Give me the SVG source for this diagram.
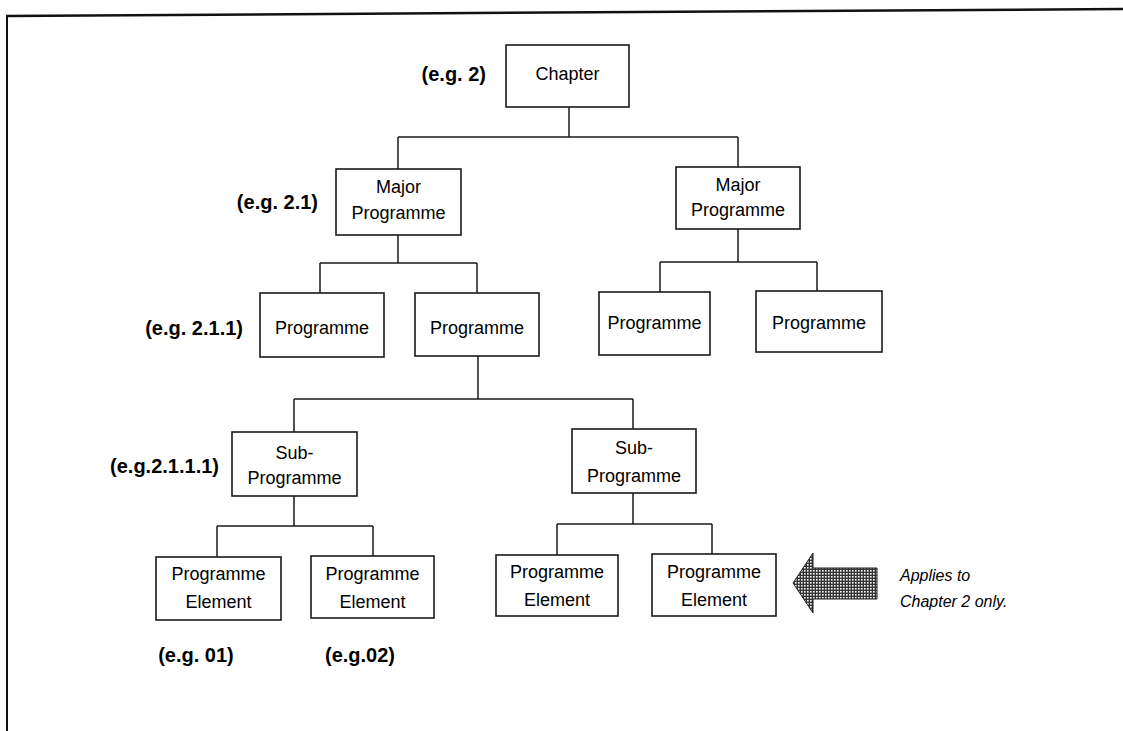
<svg xmlns="http://www.w3.org/2000/svg" width="1123" height="731" viewBox="0 0 1123 731">
<style>
.box{fill:#fff;stroke:#1a1a1a;stroke-width:1.6}
.t{font-family:"Liberation Sans",Arial,sans-serif;font-size:18px;fill:#000;text-anchor:middle}
.lb{font-family:"Liberation Sans",Arial,sans-serif;font-size:20px;font-weight:bold;fill:#000}
.it{font-family:"Liberation Sans",Arial,sans-serif;font-size:16px;font-style:italic;fill:#000}
.c{fill:none;stroke:#1a1a1a;stroke-width:1.5}
</style>
<defs>
<pattern id="dots" width="3" height="3" patternUnits="userSpaceOnUse">
<rect width="3" height="3" fill="#333"/>
<rect x="0" y="0" width="1.6" height="1.6" fill="#fff"/>
</pattern>
</defs>
<rect width="1123" height="731" fill="#fff"/>
<g id="frame">
<path d="M6 16 L1123 9" stroke="#111" stroke-width="2.5" fill="none"/>
<path d="M7 16 L7 731" stroke="#111" stroke-width="2" fill="none"/>
</g>
<g id="connectors">
<path class="c" d="M569 107 V137 M398 137 H738 M398 137 V169 M738 137 V167"/>
<path class="c" d="M398 235 V263 M320 263 H477 M320 263 V293 M477 263 V293"/>
<path class="c" d="M738 229 V262 M660 262 H817 M660 262 V292 M817 262 V291"/>
<path class="c" d="M478 356 V399 M294 399 H633 M294 399 V432 M633 399 V429"/>
<path class="c" d="M294 496 V526 M217 526 H373 M217 526 V557 M373 526 V556"/>
<path class="c" d="M633 493 V524 M557 524 H712 M557 524 V555 M712 524 V554"/>
</g>
<g id="chapter">
<rect class="box" x="506" y="45" width="123" height="62"/>
<text class="t" x="567.5" y="80">Chapter</text>
</g>
<g id="lbl-chapter"><text class="lb" x="486" y="81" text-anchor="end">(e.g. 2)</text></g>
<g id="major1">
<rect class="box" x="336" y="169" width="125" height="66"/>
<text class="t" x="398.5" y="193">Major</text>
<text class="t" x="398.5" y="219">Programme</text>
</g>
<g id="lbl-major"><text class="lb" x="318" y="209" text-anchor="end">(e.g. 2.1)</text></g>
<g id="major2">
<rect class="box" x="676" y="167" width="124" height="62"/>
<text class="t" x="738" y="191">Major</text>
<text class="t" x="738" y="216">Programme</text>
</g>
<g id="prog1">
<rect class="box" x="260" y="293" width="124" height="64"/>
<text class="t" x="322" y="334">Programme</text>
</g>
<g id="lbl-prog"><text class="lb" x="243" y="335" text-anchor="end">(e.g. 2.1.1)</text></g>
<g id="prog2">
<rect class="box" x="415" y="293" width="124" height="63"/>
<text class="t" x="477" y="334">Programme</text>
</g>
<g id="prog3">
<rect class="box" x="599" y="292" width="111" height="63"/>
<text class="t" x="654.5" y="329">Programme</text>
</g>
<g id="prog4">
<rect class="box" x="756" y="291" width="126" height="61"/>
<text class="t" x="819" y="329">Programme</text>
</g>
<g id="sub1">
<rect class="box" x="232" y="432" width="125" height="64"/>
<text class="t" x="294.5" y="459">Sub-</text>
<text class="t" x="294.5" y="484">Programme</text>
</g>
<g id="lbl-sub"><text class="lb" x="219" y="473" text-anchor="end">(e.g.2.1.1.1)</text></g>
<g id="sub2">
<rect class="box" x="572" y="429" width="124" height="64"/>
<text class="t" x="634" y="454">Sub-</text>
<text class="t" x="634" y="482">Programme</text>
</g>
<g id="el1">
<rect class="box" x="156" y="557" width="125" height="63"/>
<text class="t" x="218.5" y="580">Programme</text>
<text class="t" x="218.5" y="608">Element</text>
</g>
<g id="el2">
<rect class="box" x="311" y="556" width="123" height="62"/>
<text class="t" x="372.5" y="580">Programme</text>
<text class="t" x="372.5" y="608">Element</text>
</g>
<g id="el3">
<rect class="box" x="496" y="555" width="122" height="61"/>
<text class="t" x="557" y="578">Programme</text>
<text class="t" x="557" y="606">Element</text>
</g>
<g id="el4">
<rect class="box" x="652" y="554" width="124" height="62"/>
<text class="t" x="714" y="578">Programme</text>
<text class="t" x="714" y="606">Element</text>
</g>
<g id="lbl-el">
<text class="lb" x="196" y="662" text-anchor="middle">(e.g. 01)</text>
<text class="lb" x="360" y="662" text-anchor="middle">(e.g.02)</text>
</g>
<g id="note">
<polygon points="793,583 813,553 813,568 877,568 877,599 813,599 813,613" fill="url(#dots)" stroke="#222" stroke-width="1"/>
<text class="it" x="900" y="581">Applies to</text>
<text class="it" x="900" y="607">Chapter 2 only.</text>
</g>
</svg>
